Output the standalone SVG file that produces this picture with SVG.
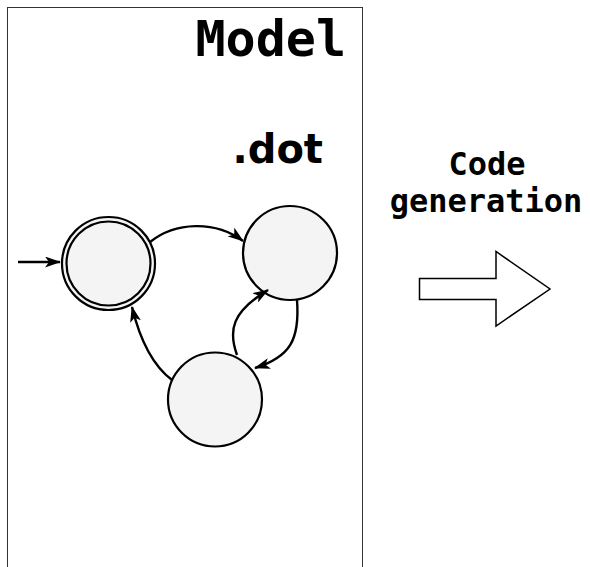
<svg xmlns="http://www.w3.org/2000/svg" width="590" height="567" viewBox="0 0 590 567">
  <style>
    .state { fill: #f4f4f4; stroke: #000; stroke-width: 2.2; }
    .edge { fill: none; stroke: #000; stroke-width: 2.4; }
    .title { font-family: "DejaVu Sans Mono", "Liberation Mono", monospace; font-weight: bold; fill: #000; }
    .ext { font-family: "DejaVu Sans", "Liberation Sans", sans-serif; font-weight: bold; fill: #000; }
  </style>
  <defs>
    <marker id="arrow" viewBox="0 0 16 11" refX="15" refY="5.5" markerWidth="16" markerHeight="11" markerUnits="userSpaceOnUse" orient="auto">
      <path d="M0,0 L16,5.5 L0,11 L4,5.5 z" fill="#000"/>
    </marker>
  </defs>

  <rect width="590" height="567" fill="#fff"/>

  <!-- model frame -->
  <g id="model-frame">
    <rect x="7.5" y="7.5" width="355" height="575" fill="none" stroke="#333" stroke-width="1"/>
    <text class="title" x="346" y="56" font-size="50" text-anchor="end">Model</text>
    <text class="ext" x="323" y="163" font-size="40" text-anchor="end">.dot</text>
  </g>

  <!-- states -->
  <g id="state-start">
    <circle class="state" cx="108.5" cy="263.5" r="46.5"/>
    <circle cx="108.5" cy="263.5" r="42" fill="none" stroke="#000" stroke-width="2.2"/>
  </g>
  <g id="state-right">
    <circle class="state" cx="290" cy="253" r="47"/>
  </g>
  <g id="state-bottom">
    <circle class="state" cx="215" cy="399.5" r="47"/>
  </g>

  <!-- transitions -->
  <g id="connectors">
    <path class="edge" d="M18,262 L60,262" marker-end="url(#arrow)"/>
    <path class="edge" d="M150,242 C175,222 215,220 243,241" marker-end="url(#arrow)"/>
    <path class="edge" d="M172,380 C152,365 140,340 132,307" marker-end="url(#arrow)"/>
    <path class="edge" d="M237,355 C228,330 232,312 268,290" marker-end="url(#arrow)"/>
    <path class="edge" d="M297,300 C300,340 290,357 255,368" marker-end="url(#arrow)"/>
  </g>

  <!-- code generation step -->
  <g id="code-generation">
    <text class="title" x="487" y="175" font-size="32" text-anchor="middle">Code</text>
    <text class="title" x="486" y="212" font-size="32" text-anchor="middle">generation</text>
    <polygon points="419.5,278.5 496,278.5 496,251.5 550,289 496,326 496,299.5 419.5,299.5" fill="#fff" stroke="#000" stroke-width="1.5"/>
  </g>
</svg>
